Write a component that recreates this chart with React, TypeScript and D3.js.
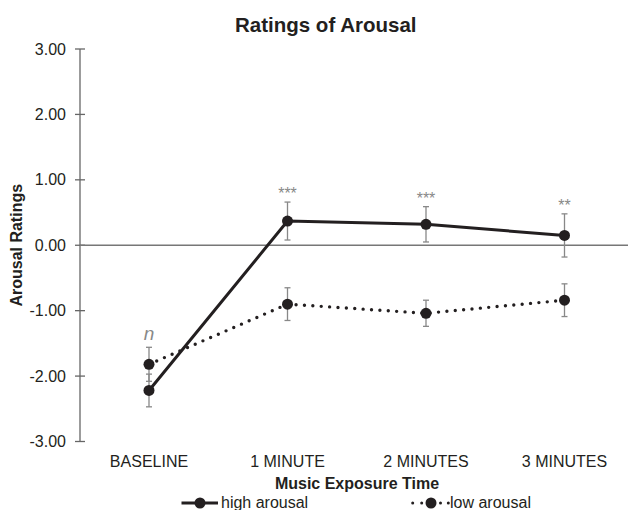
import React from "react";
import * as d3 from "d3";

const categories = ["BASELINE", "1 MINUTE", "2 MINUTES", "3 MINUTES"];
const highArousal = [-2.22, 0.37, 0.32, 0.15];
const highErr = [0.25, 0.29, 0.27, 0.33];
const lowArousal = [-1.82, -0.9, -1.04, -0.84];
const lowErr = [0.26, 0.25, 0.2, 0.25];
const annotations = ["n", "***", "***", "**"];
const yTicks = [3, 2, 1, 0, -1, -2, -3];

const W = 628;
const H = 510;
const font = "Liberation Sans, Arial, sans-serif";
const ink = "#231f20";
const gray = "#888";

export default function App() {
  const x = d3.scalePoint<string>().domain(categories).range([149, 564.5]);
  const y = d3.scaleLinear().domain([-3, 3]).range([441.5, 49]);
  const line = d3
    .line<number>()
    .x((_, i) => x(categories[i]) as number)
    .y((d) => y(d));

  const topOf = (i: number) =>
    Math.max(highArousal[i] + highErr[i], lowArousal[i] + lowErr[i]);

  const errBars = (vals: number[], errs: number[], key: string) =>
    vals.map((v, i) => {
      const cx = x(categories[i]) as number;
      return (
        <g key={key + i} stroke={gray} strokeWidth={1.3}>
          <line x1={cx} x2={cx} y1={y(v + errs[i])} y2={y(v - errs[i])} />
          <line x1={cx - 3} x2={cx + 3} y1={y(v + errs[i])} y2={y(v + errs[i])} />
          <line x1={cx - 3} x2={cx + 3} y1={y(v - errs[i])} y2={y(v - errs[i])} />
        </g>
      );
    });

  const lowLegendDots = [412.7, 421.7, 440.5, 448.3];

  return (
    <svg width={W} height={H} style={{ position: "absolute", left: 0, top: 0, background: "#fff" }} fontFamily={font}>
      <rect width={W} height={H} fill="#fff" />
      <text x={235} y={32} textAnchor="start" fontSize={20.5} fontWeight="bold" fill={ink}>
        Ratings of Arousal
      </text>
      {/* y axis */}
      <line x1={80} x2={80} y1={y(3)} y2={y(-3)} stroke="#666" strokeWidth={1.3} />
      {yTicks.map((t) => (
        <g key={t}>
          <line x1={75} x2={85} y1={y(t)} y2={y(t)} stroke="#666" strokeWidth={1.3} />
          <text x={66} y={y(t)} dy="0.35em" textAnchor="end" fontSize={16} fill={ink}>
            {t.toFixed(2)}
          </text>
        </g>
      ))}
      {/* zero line */}
      <line x1={80} x2={W} y1={y(0)} y2={y(0)} stroke="#777" strokeWidth={1.3} />
      <text
        transform={`translate(16.5,${y(0)}) rotate(-90)`}
        textAnchor="middle"
        dy="0.35em"
        fontSize={16}
        fontWeight="bold"
        fill={ink}
      >
        Arousal Ratings
      </text>
      {/* error bars */}
      {errBars(lowArousal, lowErr, "l")}
      {errBars(highArousal, highErr, "h")}
      {/* lines */}
      <path d={line(highArousal) || ""} fill="none" stroke={ink} strokeWidth={3} />
      <path
        d={line(lowArousal) || ""}
        fill="none"
        stroke={ink}
        strokeWidth={3.4}
        strokeDasharray="0 8.4"
        strokeLinecap="round"
      />
      {highArousal.map((v, i) => (
        <circle key={"hc" + i} cx={x(categories[i]) as number} cy={y(v)} r={5.5} fill={ink} />
      ))}
      {lowArousal.map((v, i) => (
        <circle key={"lc" + i} cx={x(categories[i]) as number} cy={y(v)} r={5.5} fill={ink} />
      ))}
      {/* annotations */}
      {annotations.map((a, i) => (
        <text
          key={"a" + i}
          x={x(categories[i]) as number}
          y={a === "n" ? y(topOf(i)) - 7 : y(topOf(i)) - 3}
          textAnchor="middle"
          fontSize={a === "n" ? 19 : 16}
          fontStyle={a === "n" ? "italic" : "normal"}
          fill={gray}
        >
          {a}
        </text>
      ))}
      {/* x labels */}
      {categories.map((c) => (
        <text key={c} x={x(c) as number} y={461} dy="0.35em" textAnchor="middle" fontSize={16} fill={ink}>
          {c}
        </text>
      ))}
      <text x={357} y={489} textAnchor="middle" fontSize={16} fontWeight="bold" fill={ink}>
        Music Exposure Time
      </text>
      {/* legend */}
      <line x1={181.5} x2={218} y1={503} y2={503} stroke={ink} strokeWidth={3} />
      <circle cx={200} cy={503} r={5.5} fill={ink} />
      <text x={221} y={507.5} fontSize={16} fill={ink}>
        high arousal
      </text>
      {lowLegendDots.map((d, i) => (
        <circle key={"ld" + i} cx={d} cy={503} r={1.5} fill={ink} />
      ))}
      <circle cx={431} cy={503} r={5.5} fill={ink} />
      <text x={450} y={507.5} fontSize={16} fill={ink}>
        low arousal
      </text>
    </svg>
  );
}
